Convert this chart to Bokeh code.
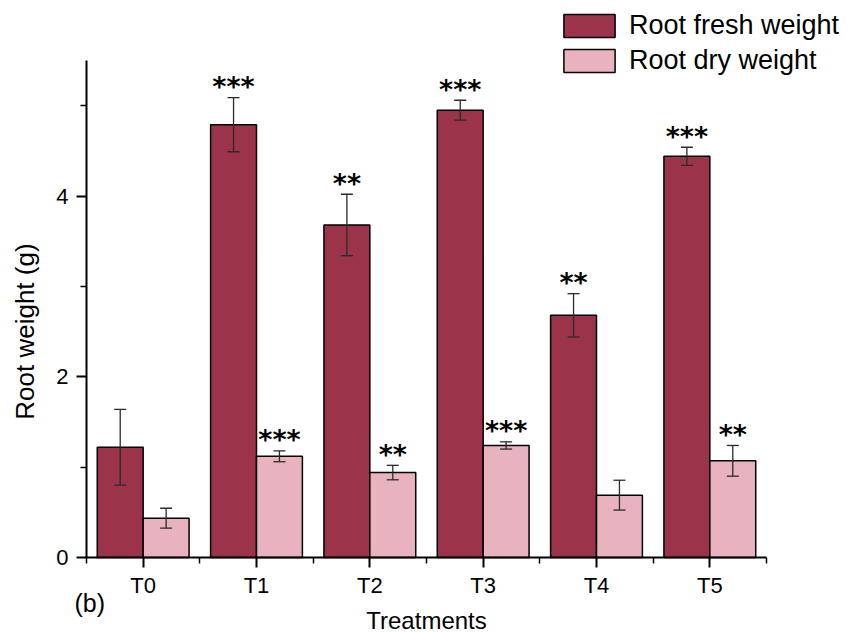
import numpy as np
from bokeh.plotting import figure
from bokeh.models import (ColumnDataSource, Range1d, FixedTicker, Whisker, TeeHead,
                          Legend, LegendItem, Label, LinearAxis)
from bokeh.embed import file_html
from bokeh.resources import INLINE
from bokeh.core.properties import value

treatments = ["T0", "T1", "T2", "T3", "T4", "T5"]
fresh = [1.22, 4.79, 3.68, 4.95, 2.68, 4.44]
fresh_err = [0.42, 0.30, 0.34, 0.11, 0.24, 0.10]
fresh_sig = ["", "***", "**", "***", "**", "***"]
dry = [0.435, 1.12, 0.94, 1.24, 0.69, 1.07]
dry_err = [0.11, 0.06, 0.08, 0.04, 0.165, 0.17]
dry_sig = ["", "***", "**", "***", "", "**"]

FRESH_COLOR = "#9B344B"
DRY_COLOR = "#E8B3BF"
FONT = "Liberation Sans"

W, H = 857, 633
# frame covers the whole canvas; axes sit at fixed data positions
px_x = 680 / 6.0      # pixels per category unit
px_y = 497 / 5.5      # pixels per gram
x0 = -0.5 - 86 / px_x
y0 = -(H - 557) / px_y

idx = np.arange(len(treatments))
bw = 0.405

def make_src(vals, errs, sig, off):
    v = np.array(vals); e = np.array(errs)
    return ColumnDataSource(dict(x=idx + off, top=v, upper=v + e, lower=v - e, sig=sig))

src_f = make_src(fresh, fresh_err, fresh_sig, -bw / 2)
src_d = make_src(dry, dry_err, dry_sig, bw / 2)

p = figure(width=W, height=H, output_backend="svg", toolbar_location=None,
           x_range=Range1d(x0, x0 + W / px_x), y_range=Range1d(y0, y0 + H / px_y),
           x_axis_location=None, y_axis_location=None,
           min_border=0, min_border_left=0, min_border_right=0,
           min_border_top=0, min_border_bottom=0)
p.outline_line_color = None
p.grid.visible = False
p.background_fill_color = "white"

r_f = p.vbar(x="x", top="top", width=bw, source=src_f, fill_color=FRESH_COLOR,
             line_color="black", line_width=1.5)
r_d = p.vbar(x="x", top="top", width=bw, source=src_d, fill_color=DRY_COLOR,
             line_color="black", line_width=1.5)

for src in (src_f, src_d):
    w = Whisker(base="x", upper="upper", lower="lower", source=src, level="overlay",
                line_color="#2a2a2a", line_width=1.3,
                upper_head=TeeHead(size=12, line_color="#2a2a2a", line_width=1.3),
                lower_head=TeeHead(size=12, line_color="#2a2a2a", line_width=1.3))
    p.add_layout(w)
    p.text(x="x", y="upper", text="sig", source=src, text_align="center",
           text_baseline="alphabetic", y_offset=-11, text_font=value("DejaVu Sans"),
           text_font_size="27px", text_font_style="bold", text_color="black")

# axes
xa = LinearAxis(fixed_location=0, bounds=(-0.5, 5.5),
                ticker=FixedTicker(ticks=list(idx),
                                   minor_ticks=list(idx - 0.5) + [idx[-1] + 0.5]),
                major_label_overrides={int(i): t for i, t in zip(idx, treatments)})
ya = LinearAxis(fixed_location=-0.5, bounds=(0, 5.5),
                ticker=FixedTicker(ticks=[0, 2, 4], minor_ticks=[1, 3, 5]))
p.add_layout(xa, "below")
p.add_layout(ya, "left")

for ax in (xa, ya):
    ax.axis_line_color = "black"
    ax.axis_line_width = 2
    ax.major_tick_line_color = "black"
    ax.major_tick_line_width = 2
    ax.minor_tick_line_color = "black"
    ax.minor_tick_line_width = 1.5
    ax.major_tick_out = 10
    ax.major_tick_in = 0
    ax.minor_tick_out = 6
    ax.minor_tick_in = 0
    ax.major_label_text_font = FONT
    ax.major_label_text_font_size = "22px"
    ax.major_label_text_color = "black"

xa.major_label_standoff = 5
ya.major_label_standoff = 8

legend = Legend(items=[LegendItem(label="Root fresh weight", renderers=[r_f]),
                       LegendItem(label="Root dry weight", renderers=[r_d])],
                location=(557, H - 76), orientation="vertical",
                glyph_width=64, glyph_height=29, spacing=4, padding=0, margin=0,
                label_standoff=8, label_text_font=FONT, label_text_font_size="27px",
                label_text_color="black",
                label_height=29, border_line_color=None, background_fill_alpha=0)
p.add_layout(legend, "center")

p.add_layout(Label(x=-0.5, y=2.5, x_offset=-62, text="Root weight (g)", angle=np.pi / 2,
                   text_font=FONT, text_font_size="26px", text_color="black",
                   text_baseline="middle", text_align="center"))
p.add_layout(Label(x=2.5, y=-0.70, text="Treatments", text_font=FONT,
                   text_font_size="24px", text_color="black",
                   text_baseline="middle", text_align="center"))
p.add_layout(Label(x=-0.5, y=-0.5, x_offset=-12, text="(b)", text_font=FONT,
                   text_font_size="25px", text_color="black",
                   text_baseline="middle", text_align="left"))

open("out.html", "w").write(file_html(p, INLINE))
